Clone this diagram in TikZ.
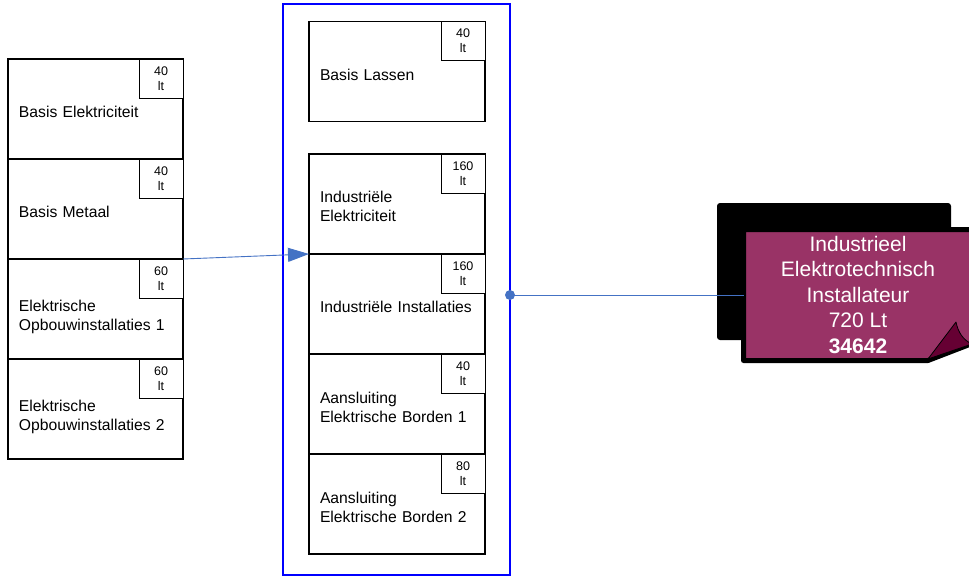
\documentclass[tikz,border=0pt]{standalone}
\usepackage{fontspec}
\setmainfont{Liberation Sans}
\usetikzlibrary{positioning}
\usetikzlibrary{arrows.meta}
\definecolor{verbindblauw}{HTML}{4472C4}
\definecolor{kaderblauw}{HTML}{0000FF}
\definecolor{kaartpaars}{HTML}{993366}
\definecolor{vouwpaars}{HTML}{660033}
\tikzset{
    module/.style={draw=black, line width=1.3pt, fill=white, outer sep=0pt,
        minimum height=100pt, text width=153pt, inner xsep=11pt, inner ysep=0pt,
        align=left, font=\fontsize{15.7}{19}\selectfont,
        execute at begin node={\rule{0pt}{#1}}},
    module/.default=18pt,
    uren/.style={draw=black, line width=0.9pt, fill=white, outer sep=0pt,
        minimum width=44pt, minimum height=39pt, inner sep=0pt,
        align=center, font=\fontsize{12.5}{15}\selectfont},
    verbinding/.style={draw=verbindblauw, line width=0.9pt},
}
\begin{document}
\begin{tikzpicture}[x=1pt, y=-1pt]
                    \useasboundingbox (0,0) rectangle (969,576);

                    \node[module] (be) at (95.5,109) {Basis Elektriciteit};
                    \node[module, below=0pt of be] (bm) {Basis Metaal};
                    \node[module=27pt, below=0pt of bm] (eo1) {Elektrische\\Opbouwinstallaties 1};
                    \node[module=27pt, below=0pt of eo1] (eo2) {Elektrische\\Opbouwinstallaties 2};

                    \node[uren, anchor=north east] (be-uren) at (be.north east) {40\\lt};
                    \node[uren, anchor=north east] (bm-uren) at (bm.north east) {40\\lt};
                    \node[uren, anchor=north east] (eo1-uren) at (eo1.north east) {60\\lt};
                    \node[uren, anchor=north east] (eo2-uren) at (eo2.north east) {60\\lt};

                    \node[draw=kaderblauw, line width=1.8pt, outer sep=0pt,
                        minimum width=227pt, minimum height=571pt] (groep) at (396.5,289.5) {};

                    \node[module=17.5pt, text width=154pt] (bl) at (397,71.5) {Basis Lassen};
                    \node[module=15.5pt, text width=154pt] (ie) at (397,204) {Industriële\\Elektriciteit};
                    \node[module=17.5pt, text width=154pt, below=0pt of ie] (ii) {Industriële Installaties};
                    \node[module=17.5pt, text width=154pt, below=0pt of ii] (aeb1) {Aansluiting\\Elektrische Borden 1};
                    \node[module=17.5pt, text width=154pt, below=0pt of aeb1] (aeb2) {Aansluiting\\Elektrische Borden 2};

                    \node[uren, anchor=north east] (bl-uren) at (bl.north east) {40\\lt};
                    \node[uren, anchor=north east] (ie-uren) at (ie.north east) {160\\lt};
                    \node[uren, anchor=north east] (ii-uren) at (ii.north east) {160\\lt};
                    \node[uren, anchor=north east] (aeb1-uren) at (aeb1.north east) {40\\lt};
                    \node[uren, anchor=north east] (aeb2-uren) at (aeb2.north east) {80\\lt};

                    \fill[black, rounded corners=3pt] (717,203) rectangle (951,340);
                    \filldraw[fill=kaartpaars, draw=black, line width=5pt, line join=round]
                        (743.5,229.5) -- (976,229.5) -- (976,342) -- (928,360.5) -- (743.5,360.5) -- cycle;
                    \filldraw[fill=vouwpaars, draw=black, line width=0.8pt, line join=round]
                        (928,359) -- (956,322) .. controls (958,332) and (963,340) .. (972,344) -- cycle;
                    \node[text=white, align=center, minimum width=228pt, minimum height=131pt, inner sep=0pt,
                        font=\fontsize{21}{25.5}\selectfont] (kaart) at (858,295)
                        {Industrieel\\Elektrotechnisch\\Installateur\\720 Lt\\\textbf{34642}};

                    \draw[verbinding, -{Triangle[length=21pt,width=14pt]}] (eo1.north east) -- (ie.south west);
                    \draw[verbinding] (groep.east |- kaart.west) -- (kaart.west);
                    \fill[verbindblauw] (groep.east |- kaart.west) circle (5pt);
                \end{tikzpicture}
\end{document}
